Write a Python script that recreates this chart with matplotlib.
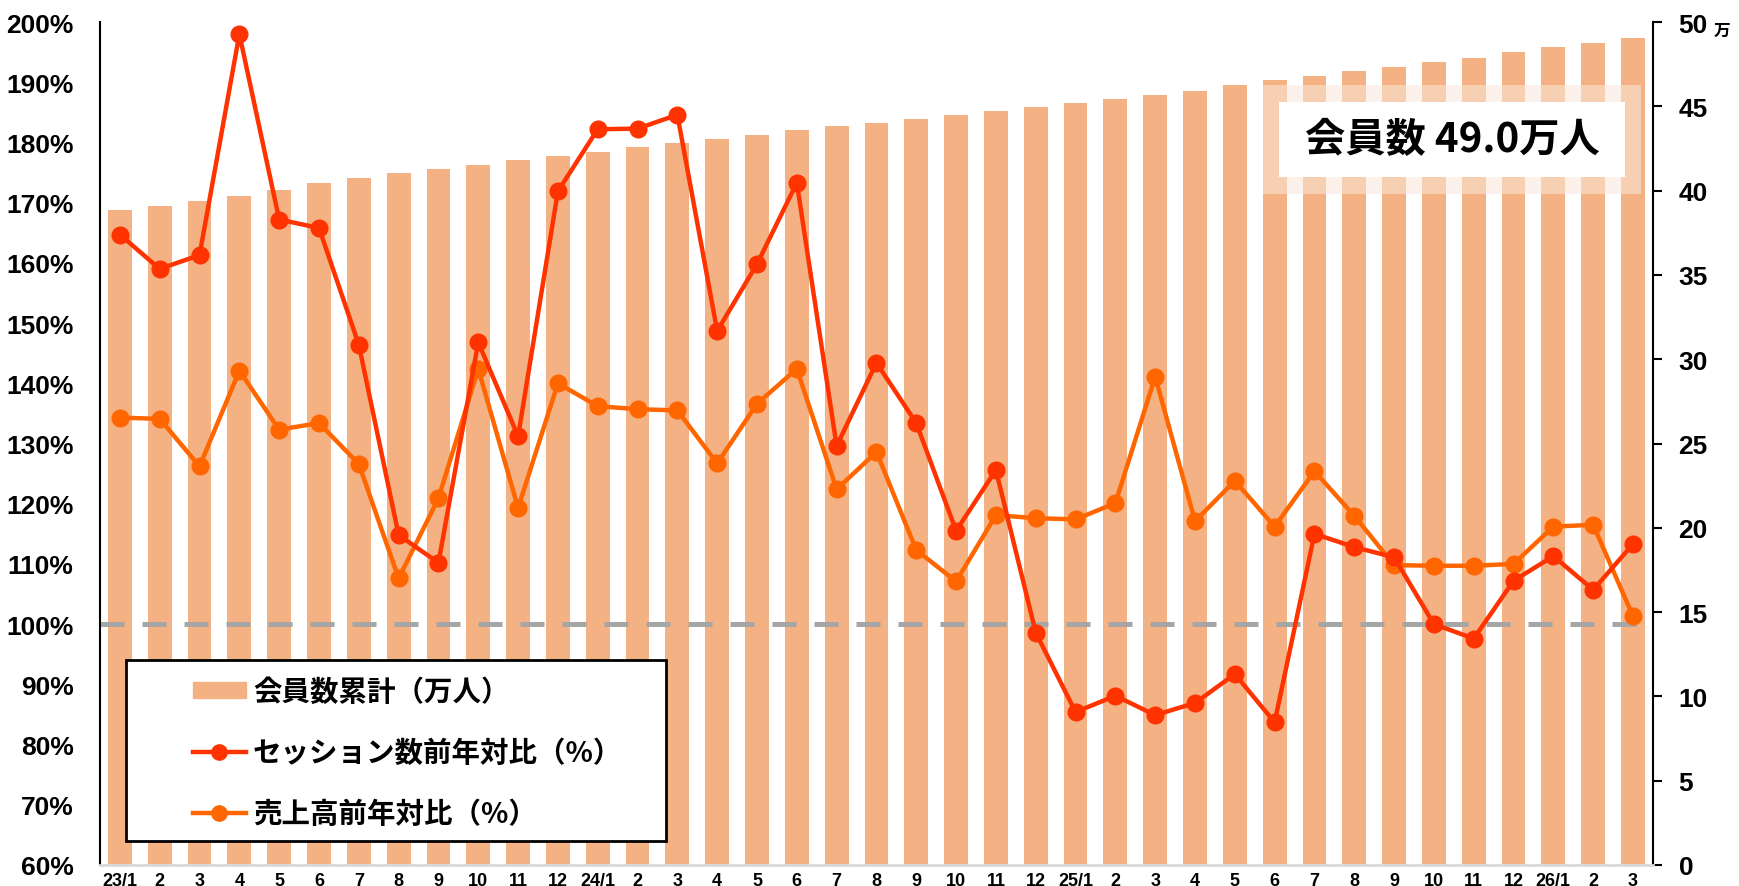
import matplotlib.pyplot as plt
from matplotlib.patches import Rectangle, Patch
from matplotlib.lines import Line2D
from matplotlib import font_manager
import numpy as np

months = ['23/1', '2', '3', '4', '5', '6', '7', '8', '9', '10', '11', '12',
          '24/1', '2', '3', '4', '5', '6', '7', '8', '9', '10', '11', '12',
          '25/1', '2', '3', '4', '5', '6', '7', '8', '9', '10', '11', '12',
          '26/1', '2', '3']

# cumulative members (万人), right axis
members = [38.85, 39.09, 39.38, 39.68, 40.03, 40.43, 40.73, 41.04, 41.28, 41.55,
           41.79, 42.07, 42.31, 42.56, 42.80, 43.04, 43.33, 43.57, 43.81, 44.03,
           44.27, 44.48, 44.72, 44.96, 45.20, 45.41, 45.66, 45.93, 46.24, 46.55,
           46.79, 47.09, 47.33, 47.63, 47.88, 48.22, 48.52, 48.77, 49.03]

# year-over-year ratios (%), left axis
session_yoy = [164.7, 159.0, 161.3, 198.0, 167.2, 165.8, 146.4, 114.8, 110.2, 146.8,
               131.2, 171.9, 182.2, 182.3, 184.6, 148.7, 159.8, 173.3, 129.6, 143.4,
               133.4, 115.5, 125.6, 98.6, 85.4, 88.1, 84.9, 86.9, 91.7, 83.7,
               115.0, 112.8, 111.1, 100.0, 97.6, 107.2, 111.3, 105.7, 113.3]
sales_yoy = [134.3, 134.1, 126.2, 142.1, 132.3, 133.4, 126.6, 107.6, 120.9, 142.4,
             119.3, 140.0, 136.2, 135.7, 135.5, 126.7, 136.6, 142.4, 122.4, 128.6,
             112.3, 107.1, 118.1, 117.6, 117.4, 120.1, 141.1, 117.1, 123.8, 116.2,
             125.4, 118.0, 109.8, 109.7, 109.7, 110.0, 116.2, 116.5, 101.3]

BAR = '#F4B183'
RED = '#FF3300'
ORANGE = '#FF6600'

# narrow digits like the original, if the narrow face exists
names = {f.name for f in font_manager.fontManager.ttflist}
if 'Liberation Sans Narrow' in names:
    NUM_FONT, NUM_SIZE = ['Liberation Sans Narrow'], 21.5
else:
    NUM_FONT, NUM_SIZE = ['Liberation Sans', 'DejaVu Sans'], 19

plt.rcParams['font.family'] = ['Noto Sans CJK JP', 'DejaVu Sans']

fig = plt.figure(figsize=(17.39, 8.87), dpi=100)
fig.subplots_adjust(left=0.0575, right=0.9505, bottom=0.0237, top=0.974)
ax = fig.add_subplot(111)
ax2 = ax.twinx()
x = np.arange(len(months))

ax2.bar(x, members, width=0.6, color=BAR, zorder=1)
ax2.set_ylim(0, 50)

ax.set_zorder(ax2.get_zorder() + 1)
ax.patch.set_visible(False)
ax.axhline(100, color='#A6A6A6', lw=3.6, linestyle=(0, (4.8, 3.6)), zorder=2)
ax.plot(x, session_yoy, color=RED, lw=3.2, marker='o', ms=12, zorder=4)
ax.plot(x, sales_yoy, color=ORANGE, lw=3.2, marker='o', ms=12, zorder=3)
ax.set_ylim(60, 200)
ax.set_xlim(-0.5, 38.5)

yt = np.arange(60, 201, 10)
ax.set_yticks(yt, [f'{v}%' for v in yt], fontsize=NUM_SIZE, fontweight='bold', family=NUM_FONT)
ax.set_xticks(x, months, fontsize=13, fontweight='bold', family=['Liberation Sans', 'DejaVu Sans'])
ax.tick_params(axis='y', length=0, pad=19)
ax.tick_params(axis='x', length=0, pad=5)

rt = np.arange(0, 51, 5)
ax2.set_yticks(rt, [str(v) for v in rt], fontsize=NUM_SIZE, fontweight='bold', family=NUM_FONT)
ax2.tick_params(axis='y', length=6.5, width=1.5, direction='out', pad=12)
fig.text(0.9856, 0.9656, '万', fontsize=12, fontweight='bold', ha='left', va='center')

for a in (ax, ax2):
    a.spines['top'].set_visible(False)
ax.spines['right'].set_visible(False)
ax.spines['left'].set_linewidth(1.5)
ax.spines['bottom'].set_color('#D9D9D9')
ax.spines['bottom'].set_linewidth(2)
ax2.spines['left'].set_visible(False)
ax2.spines['bottom'].set_visible(False)
ax2.spines['right'].set_linewidth(1.5)

# legend box
ax.add_patch(Rectangle((0.0725, 0.0507), 0.3105, 0.204, transform=fig.transFigure,
                       facecolor='white', edgecolor='black', lw=2, zorder=5, clip_on=False))
handles = [Patch(color=BAR),
           Line2D([], [], color=RED, lw=3.2, marker='o', ms=11),
           Line2D([], [], color=ORANGE, lw=3.2, marker='o', ms=11)]
labels = ['会員数累計（万人）', 'セッション数前年対比（%）', '売上高前年対比（%）']
leg = ax.legend(handles, labels, loc='center left', bbox_to_anchor=(0.111, 0.150),
                bbox_transform=fig.transFigure, frameon=False, borderpad=0, borderaxespad=0,
                handlelength=1.85, handleheight=0.45, handletextpad=0.25, labelspacing=1.15,
                prop={'size': 20.5, 'weight': 'bold'})
leg.set_zorder(6)

# member count callout
ax.add_patch(Rectangle((0.7263, 0.7802), 0.2174, 0.1229, transform=fig.transFigure,
                       facecolor='#FBE9DC', alpha=0.55, edgecolor='none', zorder=5, clip_on=False))
ax.add_patch(Rectangle((0.7355, 0.7993), 0.199, 0.0846, transform=fig.transFigure,
                       facecolor='white', edgecolor='none', zorder=5, clip_on=False))
fig.text(0.835, 0.8416, '会員数 49.0万人', fontsize=29, fontweight='bold',
         ha='center', va='center', zorder=7)

fig.savefig('out.png', dpi=100)
